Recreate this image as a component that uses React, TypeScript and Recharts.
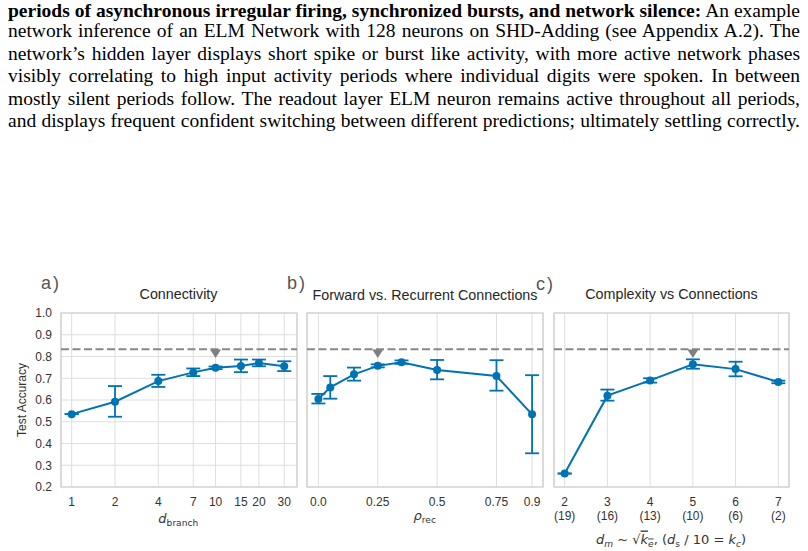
import React from 'react';
import {
  ComposedChart,
  Line,
  XAxis,
  YAxis,
  CartesianGrid,
  ErrorBar,
  ReferenceLine,
  ReferenceArea,
  Scatter,
} from 'recharts';

// ---------- data ----------
const yTicks = [0.2, 0.3, 0.4, 0.5, 0.6, 0.7, 0.8, 0.9, 1.0];
const baselineAcc = 0.833;
const markerAcc = 0.814;

// a) Connectivity
const branchX = [1, 2, 4, 7, 10, 15, 20, 30];
const branchAcc = [0.535, 0.592, 0.687, 0.727, 0.748, 0.756, 0.77, 0.755];
const branchLo = [0.535, 0.523, 0.66, 0.71, 0.742, 0.728, 0.755, 0.733];
const branchHi = [0.535, 0.664, 0.716, 0.745, 0.754, 0.786, 0.786, 0.778];
const branchMarker = [10];

// b) Forward vs. Recurrent
const recX = [0, 0.05, 0.15, 0.25, 0.35, 0.5, 0.75, 0.9];
const recTicks = [0, 0.25, 0.5, 0.75, 0.9];
const recTickLabels = ['0.0', '0.25', '0.5', '0.75', '0.9'];
const recAcc = [0.605, 0.658, 0.718, 0.757, 0.774, 0.738, 0.71, 0.534];
const recLo = [0.584, 0.606, 0.689, 0.75, 0.766, 0.695, 0.643, 0.355];
const recHi = [0.628, 0.71, 0.749, 0.764, 0.782, 0.784, 0.783, 0.714];
const recMarker = [0.25];

// c) Complexity vs Connections
const cX = [2, 3, 4, 5, 6, 7];
const cSubLabels = ['(19)', '(16)', '(13)', '(10)', '(6)', '(2)'];
const cAcc = [0.262, 0.62, 0.69, 0.764, 0.742, 0.683];
const cLo = [0.262, 0.597, 0.68, 0.744, 0.709, 0.677];
const cHi = [0.262, 0.648, 0.7, 0.787, 0.776, 0.689];
const cMarker = [5];

const paragraph = [
  'network inference of an ELM Network with 128 neurons on SHD-Adding (see Appendix A.2). The',
  'network\u2019s hidden layer displays short spike or burst like activity, with more active network phases',
  'visibly correlating to high input activity periods where individual digits were spoken. In between',
  'mostly silent periods follow. The readout layer ELM neuron remains active throughout all periods,',
  'and displays frequent confident switching between different predictions; ultimately settling correctly.',
];
const paragraphBold = 'periods of asynchronous irregular firing, synchronized bursts, and network silence:';
const paragraphBoldTail = ' An example';

// ---------- styling ----------
const BLUE = '#0173b2';
const GRID = '#dedede';
const BORDER = '#cdcdcd';
const TXT = '#333333';
const SANS = '"Liberation Sans", Arial, sans-serif';
const MATH = '"DejaVu Sans", sans-serif';

const build = (xs: number[], acc: number[], lo: number[], hi: number[]) =>
  xs.map((x, i) => ({ x, acc: acc[i], err: [acc[i] - lo[i], hi[i] - acc[i]] }));

const markerData = (xs: number[]) => xs.map((x) => ({ x, y: markerAcc }));

const Triangle = (props: any) => {
  const { cx, cy } = props;
  if (cx == null || cy == null) return null;
  return (
    <polygon
      points={`${cx - 5.5},${cy - 4} ${cx + 5.5},${cy - 4} ${cx},${cy + 4.5}`}
      fill="#7f7f7f"
    />
  );
};

const tickStyle = { fontSize: 12, fill: TXT, fontFamily: SANS };

type PanelProps = {
  data: any[];
  markers: any[];
  domain: [number, number];
  ticks: number[];
  log?: boolean;
  width: number;
  margin: { top: number; right: number; bottom: number; left: number };
  showY?: boolean;
  tickFormatter?: (v: any) => string;
  tick?: any;
};

const Panel = ({ data, markers, domain, ticks, log, width, margin, showY, tickFormatter, tick }: PanelProps) => (
  <ComposedChart width={width} height={240} data={data} margin={margin}>
    <CartesianGrid stroke={GRID} strokeWidth={1} />
    <XAxis
      dataKey="x"
      type="number"
      scale={log ? 'log' : 'linear'}
      domain={domain}
      allowDataOverflow
      ticks={ticks}
      interval={0}
      tickLine={false}
      axisLine={false}
      tickMargin={4}
      height={50}
      tick={tick ?? tickStyle}
      tickFormatter={tickFormatter}
    />
    <YAxis
      type="number"
      domain={[0.2, 1.0]}
      ticks={yTicks}
      interval={0}
      tickLine={false}
      axisLine={false}
      tickMargin={3}
      width={showY ? 40 : 0}
      tick={showY ? tickStyle : false}
      tickFormatter={(v: number) => v.toFixed(1)}
    />
    <ReferenceArea
      x1={domain[0]}
      x2={domain[1]}
      y1={0.2}
      y2={1.0}
      fill="none"
      stroke={BORDER}
      strokeWidth={1.2}
      ifOverflow="visible"
    />
    <ReferenceLine y={baselineAcc} stroke="#888888" strokeWidth={2} strokeDasharray="8 3.5" />
    <Line
      dataKey="acc"
      type="linear"
      stroke={BLUE}
      strokeWidth={2}
      dot={{ r: 4, fill: BLUE, stroke: BLUE, strokeWidth: 0 }}
      isAnimationActive={false}
    >
      <ErrorBar dataKey="err" direction="y" width={7} stroke={BLUE} strokeWidth={1.8} />
    </Line>
    <Scatter data={markers} dataKey="y" shape={Triangle} isAnimationActive={false} />
  </ComposedChart>
);

const CTick = (props: any) => {
  const { x, y, payload } = props;
  const idx = cX.indexOf(payload.value);
  return (
    <text x={x} y={y} textAnchor="middle" fontSize={12} fill={TXT} fontFamily={SANS}>
      <tspan x={x} dy="0.71em">{payload.value}</tspan>
      <tspan x={x} dy="1.2em">{idx >= 0 ? cSubLabels[idx] : ''}</tspan>
    </text>
  );
};

const lineStyle = (baseline: number): React.CSSProperties => ({
  position: 'absolute',
  left: 8,
  top: baseline - 14.57,
  width: 792,
  lineHeight: '16px',
  fontSize: 19.5,
  fontFamily: '"Liberation Serif", "Times New Roman", serif',
  color: '#000',
  textAlign: 'justify',
  textAlignLast: 'justify',
  whiteSpace: 'nowrap',
});

export default function App() {
  const baselines = [17.5, 38, 60.5, 83, 105.5, 128];
  return (
    <div
      style={{
        position: 'absolute',
        left: 0,
        top: 0,
        width: 808,
        height: 551,
        background: '#fff',
        overflow: 'hidden',
      }}
    >
      <div style={lineStyle(baselines[0])}>
        <b>{paragraphBold}</b>
        {paragraphBoldTail}
      </div>
      {paragraph.map((t, i) => (
        <div key={i} style={lineStyle(baselines[i + 1])}>
          {t}
        </div>
      ))}

      <div style={{ position: 'absolute', left: 0, top: 300 }}>
        <Panel
          data={build(branchX, branchAcc, branchLo, branchHi)}
          markers={markerData(branchMarker)}
          domain={[0.843, 36.8]}
          ticks={branchX}
          log
          width={300}
          margin={{ top: 13, right: 3, bottom: 3, left: 21 }}
          showY
        />
      </div>
      <div style={{ position: 'absolute', left: 300, top: 300 }}>
        <Panel
          data={build(recX, recAcc, recLo, recHi)}
          markers={markerData(recMarker)}
          domain={[-0.048, 0.946]}
          ticks={recTicks}
          width={246}
          margin={{ top: 13, right: 3, bottom: 3, left: 7 }}
          tickFormatter={(v: number) => recTickLabels[recTicks.indexOf(v)] ?? String(v)}
        />
      </div>
      <div style={{ position: 'absolute', left: 548, top: 300 }}>
        <Panel
          data={build(cX, cAcc, cLo, cHi)}
          markers={markerData(cMarker)}
          domain={[1.75, 7.25]}
          ticks={cX}
          width={244}
          margin={{ top: 13, right: 3, bottom: 3, left: 6 }}
          tick={<CTick />}
        />
      </div>

      <svg
        width={808}
        height={551}
        style={{ position: 'absolute', left: 0, top: 0, pointerEvents: 'none' }}
      >
        {/* panel letters */}
        <text x={41} y={289} fontSize={18} letterSpacing={2} fill="#555" fontFamily={SANS}>a)</text>
        <text x={287} y={289} fontSize={18} letterSpacing={2} fill="#555" fontFamily={SANS}>b)</text>
        <text x={536} y={290} fontSize={18} letterSpacing={2} fill="#555" fontFamily={SANS}>c)</text>

        {/* titles */}
        <text x={178.5} y={299} textAnchor="middle" fontSize={14.3} fill="#262626" fontFamily={SANS}>Connectivity</text>
        <text x={425} y={299.5} textAnchor="middle" fontSize={14.3} fill="#262626" fontFamily={SANS}>Forward vs. Recurrent Connections</text>
        <text x={671.5} y={299} textAnchor="middle" fontSize={14.3} fill="#262626" fontFamily={SANS}>Complexity vs Connections</text>

        {/* y label */}
        <text
          transform="translate(26,400) rotate(-90)"
          textAnchor="middle"
          fontSize={12}
          fill={TXT}
          fontFamily={SANS}
        >
          Test Accuracy
        </text>

        {/* x labels */}
        <text x={178.3} y={522.7} textAnchor="middle" fontSize={13} fill={TXT} fontFamily={MATH}>
          <tspan fontStyle="italic">d</tspan>
          <tspan fontSize={9.1} dy={3.3}>branch</tspan>
        </text>
        <text x={424.7} y={519.5} textAnchor="middle" fontSize={13} fill={TXT} fontFamily={MATH}>
          <tspan fontStyle="italic">ρ</tspan>
          <tspan fontSize={9.1} dy={3.2}>rec</tspan>
        </text>
        <text x={671} y={543.5} textAnchor="middle" fontSize={13} fill={TXT} fontFamily={MATH}>
          <tspan fontStyle="italic">d</tspan>
          <tspan fontSize={9.1} fontStyle="italic" dy={3}>m</tspan>
          <tspan dy={-3}>{' ~ √'}</tspan>
          <tspan fontStyle="italic" textDecoration="overline">k</tspan>
          <tspan fontSize={9.1} fontStyle="italic" dy={3} textDecoration="overline">e</tspan>
          <tspan dy={-3}>{', ('}</tspan>
          <tspan fontStyle="italic">d</tspan>
          <tspan fontSize={9.1} dy={3}>s</tspan>
          <tspan dy={-3}>{' / 10 = '}</tspan>
          <tspan fontStyle="italic">k</tspan>
          <tspan fontSize={9.1} fontStyle="italic" dy={3}>c</tspan>
          <tspan dy={-3}>)</tspan>
        </text>
      </svg>
    </div>
  );
}
